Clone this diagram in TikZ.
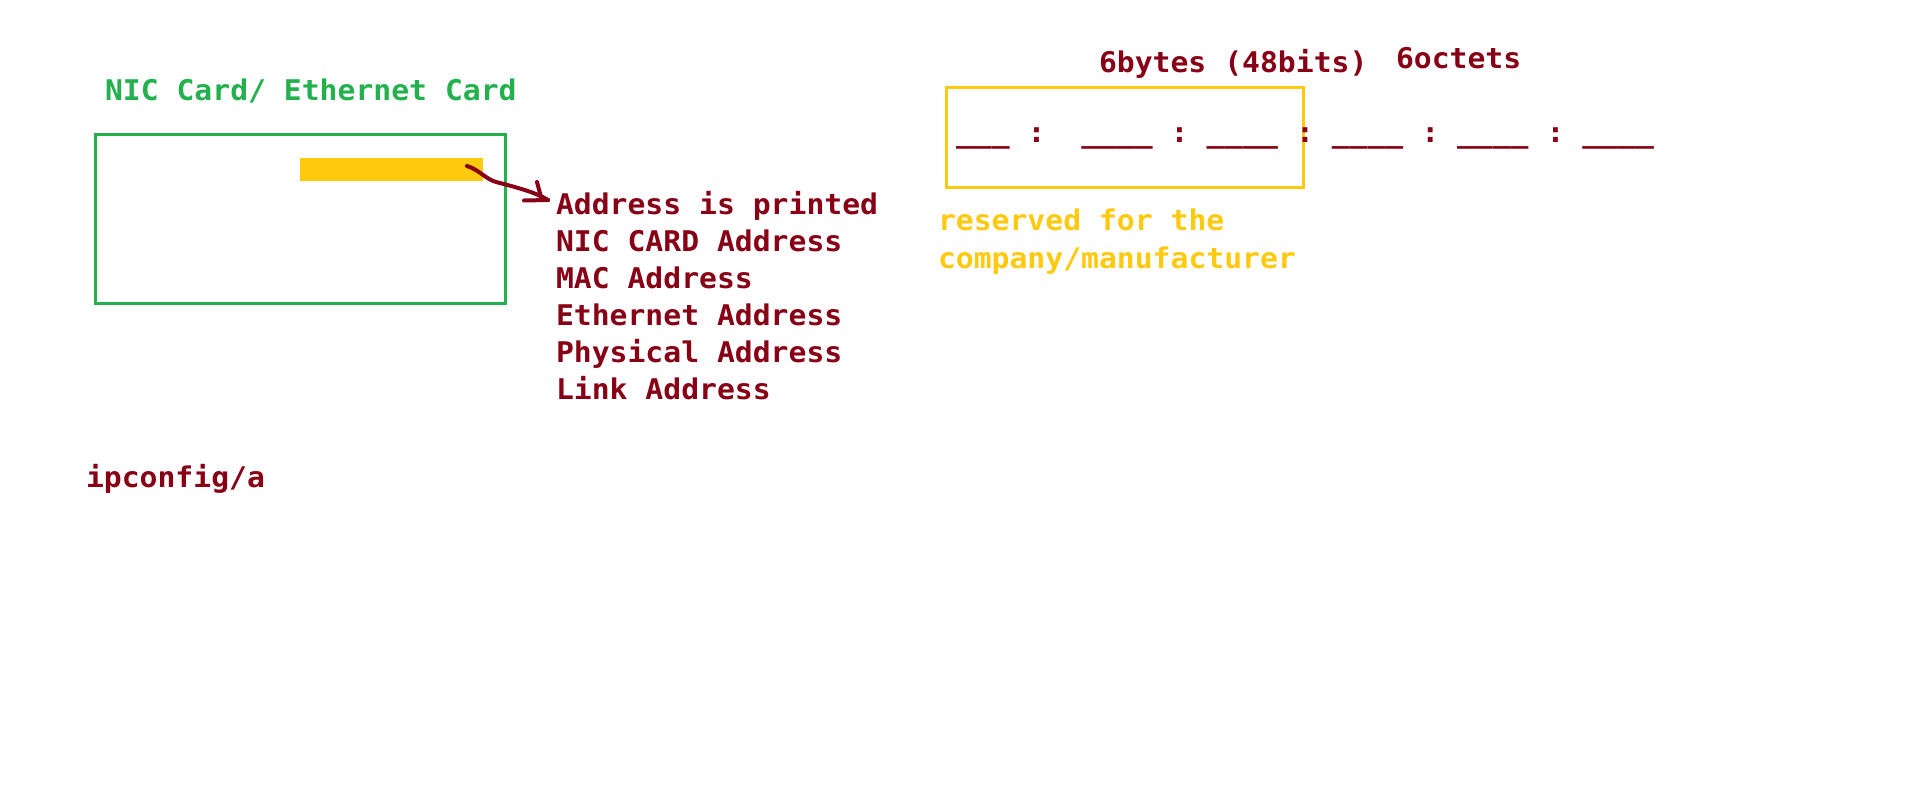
\documentclass[tikz,border=0pt]{standalone}
\usepackage{fontspec}
\setmonofont[FakeStretch=1.043]{DejaVu Sans Mono}
\definecolor{pgreen}{HTML}{22B14C}
\definecolor{pred}{HTML}{880015}
\definecolor{pgold}{HTML}{FFC90E}
\newcommand{\us}{\char"5F}
\begin{document}
\begin{tikzpicture}[x=1pt,y=-1pt,
  txt/.style={anchor=base west,inner sep=0pt,outer sep=0pt,
    font=\ttfamily\bfseries\fontsize{28.5}{36.8}\selectfont},
  redtxt/.style={txt,text=pred},
  greentxt/.style={txt,text=pgreen},
  goldtxt/.style={txt,text=pgold},
  card/.style={draw=pgreen,line width=2.5pt},
  goldbox/.style={draw=pgold,line width=2.5pt},
  hand/.style={draw=pred,line width=4pt,line cap=round,line join=round}]
\useasboundingbox[fill=white] (0,0) rectangle (1914,806);

% left part
\node[greentxt] (title) at (105,100) {NIC Card/ Ethernet Card};
\node[card,minimum width=410pt,minimum height=169pt,anchor=north west,inner sep=0pt] (card) at (94,133) {};
\node[fill=pgold,minimum width=183pt,minimum height=23pt,anchor=north west,inner sep=0pt] (chip) at (300,158) {};

\node[redtxt] (l1) at (556,214) {Address is printed};
\node[redtxt] (l2) at (556,251) {NIC CARD Address};
\node[redtxt] (l3) at (556,288) {MAC Address};
\node[redtxt] (l4) at (556,325) {Ethernet Address};
\node[redtxt] (l5) at (556,362) {Physical Address};
\node[redtxt] (l6) at (556,399) {Link Address};

\node[redtxt] (ipc) at (86,487) {ipconfig/a};

% hand drawn arrow
\coordinate (a0) at (467,166);
\coordinate (tip) at (548,200);
\draw[hand] (a0) .. controls (480,170) and (486,180) .. (498,182.5)
  .. controls (515,187) and (535,192) .. (tip);
\draw[hand] (537,182) -- (541.5,199) -- (tip);
\draw[hand] (524,200.5) -- (tip);

% right part
\node[redtxt] (bytes) at (1099,72) {6bytes (48bits)};
\node[redtxt] (oct) at (1396,68) {6octets};
\node[goldbox,minimum width=357pt,minimum height=100pt,anchor=north west,inner sep=0pt] (oui) at (945,86) {};
\node[redtxt] (mac) at (956,142) {\us\us\us\ :\ \ \us\us\us\us\ :\ \us\us\us\us\ :\ \us\us\us\us\ :\ \us\us\us\us\ :\ \us\us\us\us};
\node[goldtxt] (r1) at (938,230) {reserved for the};
\node[goldtxt] (r2) at (938,268) {company/manufacturer};
\end{tikzpicture}
\end{document}
